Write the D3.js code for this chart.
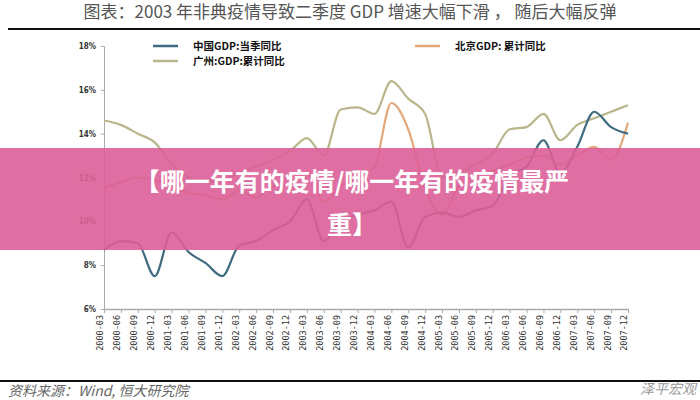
<!DOCTYPE html>
<html><head><meta charset="utf-8">
<script src="https://cdn.jsdelivr.net/npm/d3@7"></script>
<style>body{margin:0;background:#fff}svg{display:block}</style>
</head><body>
<script>
const quarters=[];for(let y=2000;y<=2007;y++)for(const m of["03","06","09","12"])quarters.push(y+"-"+m);
const china=[8.7,9.1,9.0,7.5,9.5,8.6,8.1,7.5,8.9,9.1,9.6,10.0,11.0,9.1,10.0,10.3,10.5,10.9,8.8,10.2,10.4,10.2,10.5,10.7,12.1,12.5,13.7,12.2,13.4,15.0,14.3,14.0];
const beijing=[11.5,11.8,12.0,11.9,11.6,11.3,11.2,11.0,11.4,11.1,11.6,11.7,12.2,10.9,11.6,12.0,12.5,15.4,14.2,11.5,10.3,11.6,12.1,12.3,12.6,12.9,13.0,12.6,13.0,13.4,12.8,14.5];
const guangzhou=[14.6,14.4,14.0,13.6,12.6,12.0,11.8,11.9,12.2,12.5,12.8,13.2,13.8,13.0,15.1,15.2,14.9,16.4,15.6,14.9,12.0,12.2,12.6,13.1,14.2,14.3,14.9,13.7,14.4,14.7,15.0,15.3];
const yTicks=[6,8,10,12,14,16,18];

const W=700,H=400;
const svg=d3.select("body").append("svg").attr("width",W).attr("height",H);
const x=d3.scalePoint().domain(quarters).range([104,628]);
const y=d3.scaleLinear().domain([6,18]).range([309,46]);

svg.append("text").attr("x",350).attr("y",18).attr("text-anchor","middle")
 .attr("font-family","Noto Sans CJK SC").attr("font-size",17).attr("fill","#555")
 .text("图表：2003 年非典疫情导致二季度 GDP 增速大幅下滑 ， 随后大幅反弹");
svg.append("line").attr("x1",8).attr("x2",700).attr("y1",29).attr("y2",29).attr("stroke","#111").attr("stroke-width",2);
svg.append("line").attr("x1",0).attr("x2",700).attr("y1",381).attr("y2",381).attr("stroke","#111").attr("stroke-width",2);
svg.append("text").attr("x",8).attr("y",396).attr("font-family","Noto Sans CJK SC").attr("font-size",14).attr("font-style","italic").attr("fill","#666").text("资料来源：Wind, 恒大研究院");
svg.append("text").attr("x",640).attr("y",394).attr("font-family","Noto Sans CJK SC").attr("font-size",14).attr("font-style","italic").attr("fill","#999").text("泽平宏观");

const ya=svg.append("g").attr("transform","translate(104,0)")
 .call(d3.axisLeft(y).tickValues(yTicks).tickSize(3).tickFormat(d=>d+"%"));
ya.select(".domain").attr("stroke","#aaa");
ya.selectAll("line").attr("stroke","#aaa");
ya.selectAll("text").attr("font-family","DejaVu Sans Condensed").attr("font-size",8).attr("font-weight","bold").attr("fill","#333").attr("x",-8);
const xa=svg.append("g").attr("transform","translate(0,309)")
 .call(d3.axisBottom(x).tickSize(4).tickSizeOuter(0));
xa.select(".domain").attr("stroke","#aaa").attr("stroke-width",1.5);
xa.selectAll("line").attr("stroke","#aaa");
xa.selectAll("text").attr("font-family","DejaVu Sans Mono").attr("font-size",8.5).attr("fill","#333")
 .attr("transform","rotate(-90)").attr("text-anchor","end").attr("x",-6).attr("y",-4).attr("dy","0.35em");

const line=d3.line().x((d,i)=>x(quarters[i])).y(d=>y(d)).curve(d3.curveMonotoneX);
const series=[[guangzhou,"#b9b68c"],[beijing,"#e3a77a"],[china,"#3f6b80"]];
series.forEach(([d,c])=>svg.append("path").datum(d).attr("d",line).attr("fill","none").attr("stroke",c).attr("stroke-width",2.2));

const lg=[["中国GDP:当季同比","#3f6b80",153,46],["北京GDP: 累计同比","#e3a77a",415,46],["广州:GDP:累计同比","#b9b68c",153,61]];
lg.forEach(([t,c,lx,ly])=>{
 svg.append("line").attr("x1",lx).attr("x2",lx+25).attr("y1",ly).attr("y2",ly).attr("stroke",c).attr("stroke-width",2.5);
 svg.append("text").attr("x",lx+40).attr("y",ly+4).attr("font-family","Noto Sans CJK SC").attr("font-weight","bold").attr("font-size",10.5).attr("fill","#111").text(t);
});

svg.append("rect").attr("x",0).attr("y",148).attr("width",W).attr("height",102).attr("fill","rgb(219,95,152)").attr("opacity",0.9);
["【哪一年有的疫情/哪一年有的疫情最严","重】"].forEach((t,i)=>
 svg.append("text").attr("x",352).attr("y",191+i*43).attr("text-anchor","middle").attr("font-family","Noto Sans CJK SC").attr("font-weight","bold").attr("font-size",25).attr("fill","#fff").text(t));
</script>
</body></html>
